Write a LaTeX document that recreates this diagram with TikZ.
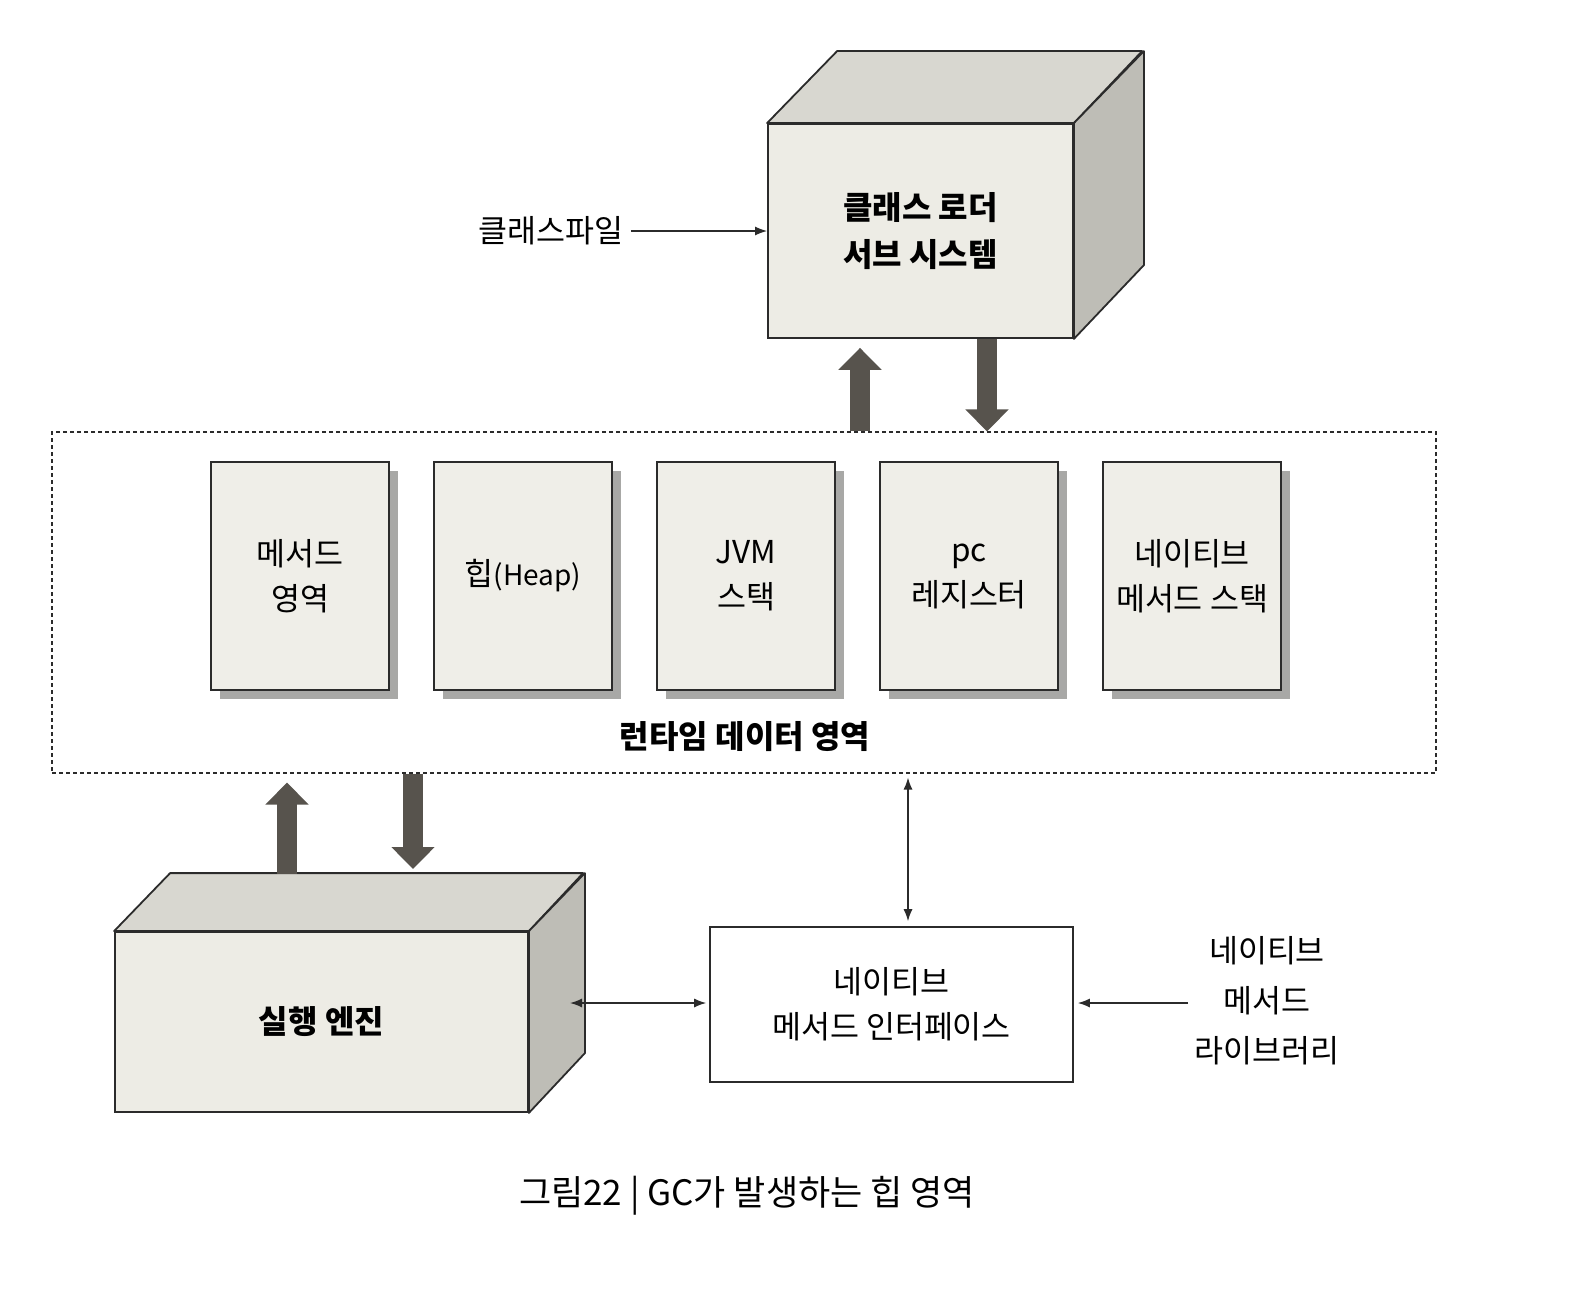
\documentclass[tikz,border=0pt]{standalone}
\usepackage{fontspec}
\setmainfont{Noto Sans CJK KR}
\usetikzlibrary{arrows.meta}
\definecolor{frontc}{HTML}{EDECE5}
\definecolor{topc}{HTML}{D8D7D0}
\definecolor{sidec}{HTML}{BEBDB6}
\definecolor{memc}{HTML}{EFEEE8}
\definecolor{shadc}{HTML}{A8A8A6}
\definecolor{arrc}{HTML}{57534D}
\definecolor{linec}{HTML}{2B2B2B}
\tikzset{
  txt/.style={font=\fontsize{31.5}{45}\selectfont, align=center, text=black},
  front/.style={draw=linec, line width=1.8pt, fill=frontc, inner sep=0pt, txt, font=\fontsize{32}{47}\selectfont\bfseries},
  mem/.style={draw=linec, line width=1.6pt, fill=memc, minimum width=178pt, minimum height=228pt, inner sep=0pt, txt},
  heavy/.style={line width=20pt, draw=arrc, -{Triangle[length=22pt,width=42pt]}},
  thin/.style={draw=linec, line width=1.4pt, -{Latex[length=12pt,width=9pt]}},
  thinboth/.style={draw=linec, line width=1.4pt, {Latex[length=12pt,width=9pt]}-{Latex[length=12pt,width=9pt]}},
}
\begin{document}
\begin{tikzpicture}[x=1pt,y=-1pt]
\useasboundingbox[fill=white] (0,0) rectangle (1584,1298);

% runtime data area
\node[draw=linec, line width=1.1pt, dash pattern=on 4pt off 3pt, minimum width=1384pt, minimum height=341pt, inner sep=0pt] (rt) at (744,602.5) {};

% class loader cube
\node[front, minimum width=305pt, minimum height=214pt] (cl) at (920.5,231) {클래스 로더\\서브 시스템};
\fill[topc, draw=linec, line width=1.8pt, line join=round] (cl.north west) -- ++(70,-72) -- ++(305,0) -- (cl.north east) -- cycle;
\fill[sidec, draw=linec, line width=1.8pt, line join=round] (cl.north east) -- ++(70,-72) -- ++(0,214) -- (cl.south east) -- cycle;

% class file input
\node[txt] (cf) at (551,231) {클래스파일};
\draw[thin] (cf.east) ++(4,0) -- (cl.west);

% heavy arrows top
\coordinate (ua) at (860,0);
\coordinate (da) at (987,0);
\draw[heavy, shorten >=9pt] (rt.north -| ua) -- (cl.south -| ua);
\draw[heavy] (cl.south -| da) -- (rt.north -| da);

% memory areas (shadows first)
\foreach \x in {300,523,746,969,1192} {
  \fill[shadc] (\x-89+9,462+9) rectangle (\x+89+9,690+9);
}
\node[mem] (m1) at (300,576) {메서드\\영역};
\node[mem] (m2) at (523,576) {힙\fontsize{28}{45}\selectfont(Heap)};
\node[mem] (m3) at (746,576) {JVM\\스택};
\node[mem] (m4) at (969,576) {pc\\레지스터};
\node[mem] (m5) at (1192,576) {네이티브\\메서드 스택};
\node[txt, font=\fontsize{32}{45}\selectfont\bfseries] (rtl) at (745,737) {런타임 데이터 영역};

% execution engine cube
\node[front, minimum width=413pt, minimum height=180pt] (ee) at (321.5,1022) {실행 엔진};
\fill[topc, draw=linec, line width=1.8pt, line join=round] (ee.north west) -- ++(56,-58) -- ++(413,0) -- (ee.north east) -- cycle;
\fill[sidec, draw=linec, line width=1.8pt, line join=round] (ee.north east) -- ++(56,-58) -- ++(0,180) -- (ee.south east) -- cycle;
\coordinate (eetop) at (0,874);
\coordinate (ub) at (287,0);
\coordinate (db) at (413,0);
\draw[heavy, shorten >=9pt] (eetop -| ub) -- (rt.south -| ub);
\draw[heavy, shorten >=5pt] (rt.south -| db) -- (eetop -| db);

% native method interface
\node[draw=linec, line width=1.6pt, fill=white, minimum width=363pt, minimum height=155pt, inner sep=0pt, txt] (nmi) at (891.5,1004.5) {네이티브\\메서드 인터페이스};
\coordinate (va) at (908,0);
\draw[thinboth, shorten <=4pt, shorten >=5pt] (rt.south -| va) -- (nmi.north -| va);
\coordinate (eeside) at (570,1003);
\draw[thinboth, shorten >=3pt] (eeside) -- (eeside -| nmi.west);

% native method library
\node[txt, font=\fontsize{31.5}{50}\selectfont] (lib) at (1267,1001) {네이티브\\메서드\\라이브러리};
\draw[thin, shorten >=4pt] (lib.west |- eeside) ++(-3,0) -- (nmi.east |- eeside);

% caption
\node[txt, font=\fontsize{35}{40}\selectfont] (cap) at (747,1196) {그림22 | GC가 발생하는 힙 영역};
\end{tikzpicture}
\end{document}
